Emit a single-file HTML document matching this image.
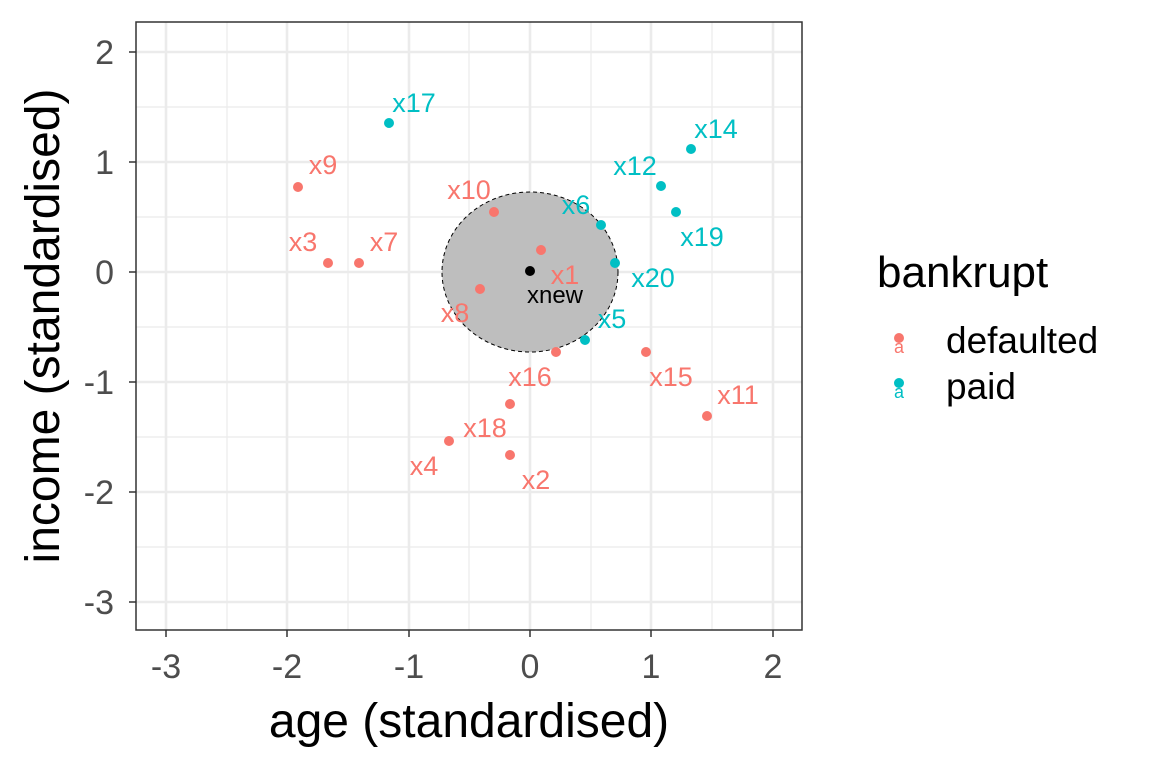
<!DOCTYPE html>
<html><head><meta charset="utf-8"><style>body{margin:0;background:#fff}svg{display:block}text{font-family:"Liberation Sans",Arial,sans-serif}</style></head><body>
<svg width="1152" height="768" viewBox="0 0 1152 768">
<rect width="1152" height="768" fill="#fff"/>
<g stroke="#ebebeb" stroke-width="1.2">
<line x1="227" y1="22" x2="227" y2="630"/><line x1="348" y1="22" x2="348" y2="630"/><line x1="469" y1="22" x2="469" y2="630"/><line x1="591" y1="22" x2="591" y2="630"/><line x1="712" y1="22" x2="712" y2="630"/>
<line x1="136" y1="107" x2="802" y2="107"/><line x1="136" y1="217" x2="802" y2="217"/><line x1="136" y1="327" x2="802" y2="327"/><line x1="136" y1="437" x2="802" y2="437"/><line x1="136" y1="547" x2="802" y2="547"/>
</g>
<g stroke="#ebebeb" stroke-width="2.6">
<line x1="166" y1="22" x2="166" y2="630"/><line x1="287" y1="22" x2="287" y2="630"/><line x1="409" y1="22" x2="409" y2="630"/><line x1="530" y1="22" x2="530" y2="630"/><line x1="651" y1="22" x2="651" y2="630"/><line x1="773" y1="22" x2="773" y2="630"/>
<line x1="136" y1="52" x2="802" y2="52"/><line x1="136" y1="162" x2="802" y2="162"/><line x1="136" y1="272" x2="802" y2="272"/><line x1="136" y1="382" x2="802" y2="382"/><line x1="136" y1="492" x2="802" y2="492"/><line x1="136" y1="602" x2="802" y2="602"/>
</g>
<ellipse cx="530" cy="272" rx="88" ry="80" fill="#bebebe" stroke="#000" stroke-width="1" stroke-dasharray="4,3"/>
<g fill="#f8766d">
<circle cx="298" cy="187" r="5"/><circle cx="328" cy="263" r="5"/><circle cx="359" cy="263" r="5"/><circle cx="494" cy="212" r="5"/><circle cx="541" cy="250" r="5"/><circle cx="480" cy="289" r="5"/><circle cx="556" cy="352" r="5"/><circle cx="646" cy="352" r="5"/><circle cx="707" cy="416" r="5"/><circle cx="510" cy="404" r="5"/><circle cx="449" cy="441" r="5"/><circle cx="510" cy="455" r="5"/>
</g>
<g fill="#00bfc4">
<circle cx="389" cy="123" r="5"/><circle cx="601" cy="225" r="5"/><circle cx="615" cy="263" r="5"/><circle cx="585" cy="340" r="5"/><circle cx="661" cy="186" r="5"/><circle cx="691" cy="149" r="5"/><circle cx="676" cy="212" r="5"/>
</g>
<circle cx="530" cy="271" r="5" fill="#000"/>
<g font-size="27" fill="#f8766d" text-anchor="middle">
<text x="323" y="174">x9</text><text x="303" y="251">x3</text><text x="384" y="251">x7</text><text x="469" y="199">x10</text><text x="565" y="284">x1</text><text x="455" y="322">x8</text><text x="530" y="386">x16</text><text x="671" y="386">x15</text><text x="738" y="404">x11</text><text x="485" y="437">x18</text><text x="424" y="475">x4</text><text x="536" y="489">x2</text>
</g>
<g font-size="27" fill="#00bfc4" text-anchor="middle">
<text x="414" y="112">x17</text><text x="576" y="214">x6</text><text x="653" y="287">x20</text><text x="612" y="328">x5</text><text x="635" y="175">x12</text><text x="716" y="138">x14</text><text x="702" y="246">x19</text>
</g>
<text x="555" y="303" font-size="24" fill="#000" text-anchor="middle">xnew</text>
<rect x="136" y="22" width="666" height="608" fill="none" stroke="#333" stroke-width="1.5"/>
<g stroke="#333" stroke-width="1.5">
<line x1="166" y1="630" x2="166" y2="637"/><line x1="287" y1="630" x2="287" y2="637"/><line x1="409" y1="630" x2="409" y2="637"/><line x1="530" y1="630" x2="530" y2="637"/><line x1="651" y1="630" x2="651" y2="637"/><line x1="773" y1="630" x2="773" y2="637"/>
<line x1="129" y1="52" x2="136" y2="52"/><line x1="129" y1="162" x2="136" y2="162"/><line x1="129" y1="272" x2="136" y2="272"/><line x1="129" y1="382" x2="136" y2="382"/><line x1="129" y1="492" x2="136" y2="492"/><line x1="129" y1="602" x2="136" y2="602"/>
</g>
<g font-size="34" fill="#4d4d4d" text-anchor="middle">
<text x="166" y="678">-3</text><text x="287" y="678">-2</text><text x="409" y="678">-1</text><text x="530" y="678">0</text><text x="651" y="678">1</text><text x="773" y="678">2</text>
</g>
<g font-size="34" fill="#4d4d4d" text-anchor="end">
<text x="114" y="64">2</text><text x="114" y="174">1</text><text x="114" y="284">0</text><text x="114" y="394">-1</text><text x="114" y="504">-2</text><text x="114" y="614">-3</text>
</g>
<text x="469" y="737" font-size="48" text-anchor="middle" fill="#000">age (standardised)</text>
<text transform="translate(59,326) rotate(-90)" font-size="48" text-anchor="middle" fill="#000">income (standardised)</text>
<text x="877" y="287" font-size="44" fill="#000">bankrupt</text>
<circle cx="899" cy="338" r="5" fill="#f8766d"/><text x="899" y="353" font-size="18" fill="#f8766d" text-anchor="middle">a</text>
<circle cx="899" cy="383" r="5" fill="#00bfc4"/><text x="899" y="398" font-size="18" fill="#00bfc4" text-anchor="middle">a</text>
<text x="946" y="353" font-size="37" fill="#000">defaulted</text>
<text x="946" y="399" font-size="37" fill="#000">paid</text>
</svg>
</body></html>
